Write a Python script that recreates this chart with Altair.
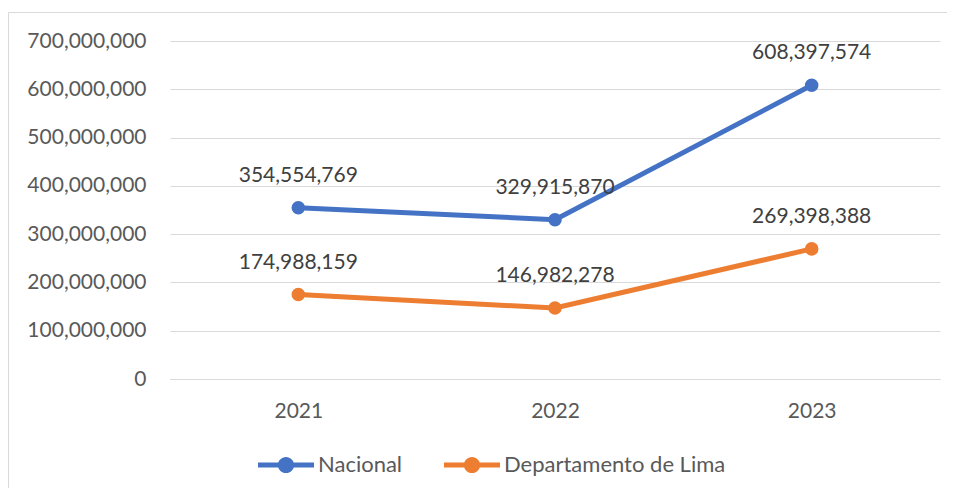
import altair as alt
import pandas as pd

years = ["2021", "2022", "2023"]
nacional = [354554769, 329915870, 608397574]
lima = [174988159, 146982278, 269398388]
series = ["Nacional", "Departamento de Lima"]
colors = ["#4472C4", "#ED7D31"]
y_ticks = [0, 100000000, 200000000, 300000000, 400000000, 500000000, 600000000, 700000000]

rows = []
for s, vals in zip(series, [nacional, lima]):
    for yr, v in zip(years, vals):
        rows.append({"year": yr, "serie": s, "value": v})
df = pd.DataFrame(rows)

FONT = "Lato"
FS = 21

x = alt.X("year:N", title=None, scale=alt.Scale(padding=0.5),
          axis=alt.Axis(labelAngle=0, ticks=False, domain=True, domainColor="#d9d9d9",
                        labelPadding=21, grid=False))
y = alt.Y("value:Q", title=None, scale=alt.Scale(domain=[0, 700000000], nice=False),
          axis=alt.Axis(values=y_ticks, labelExpr="format(datum.value, ',')", ticks=False,
                        domain=False, labelPadding=24, grid=True))

legend_path = ("M-1,-0.09 L1,-0.09 L1,0.09 L-1,0.09 Z "
               "M-0.29,0 A0.29,0.29 0 1,1 0.29,0 A0.29,0.29 0 1,1 -0.29,0 Z")

color_leg = alt.Color("serie:N", sort=series,
                      scale=alt.Scale(domain=series, range=colors),
                      legend=alt.Legend(title=None, orient="none", legendX=88, legendY=396,
                                        direction="horizontal", symbolType=legend_path,
                                        symbolSize=3136, symbolStrokeWidth=0, symbolOpacity=1,
                                        labelFont=FONT, labelFontSize=22, labelColor="#595959",
                                        labelOffset=4, columnPadding=41, labelLimit=400))

base = alt.Chart(df)
pts = base.mark_circle(size=185, opacity=1).encode(x=x, y=y, color=color_leg)
line = base.mark_line(strokeWidth=5).encode(x=x, y=y, color=color_leg)
txt = base.mark_text(dy=-32, fontSize=FS, font=FONT, color="#404040").encode(
    x=x, y=y, text=alt.Text("value:Q", format=","), detail="serie:N")

border = alt.Chart(pd.DataFrame({"a": [0]})).mark_rect(
    fillOpacity=0, stroke="#d9d9d9", strokeWidth=1).encode(
    x=alt.value(-161.5), x2=alt.value(900), y=alt.value(-28.5), y2=alt.value(600))

chart = alt.layer(border, pts, line, txt).properties(
    width=770, height=338,
    autosize=alt.AutoSizeParams(type="none"),
    padding={"left": 162, "top": 33, "right": 7, "bottom": 109},
).configure_view(stroke=None).configure_axis(
    labelFont=FONT, labelFontSize=FS, labelColor="#595959",
    gridColor="#d9d9d9", gridWidth=1
)

chart.save("out.html", embed_options={"renderer": "svg", "actions": False})
